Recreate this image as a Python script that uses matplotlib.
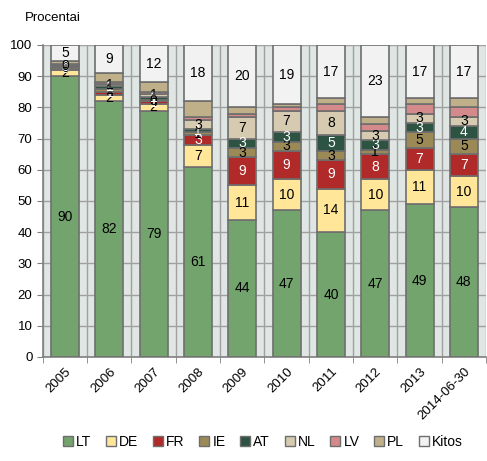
import matplotlib.pyplot as plt
import numpy as np
from matplotlib.patches import Patch

plt.rcParams["font.family"] = ["Liberation Sans", "DejaVu Sans"]

years = ["2005", "2006", "2007", "2008", "2009", "2010", "2011", "2012", "2013", "2014-06-30"]
lt = [90, 82, 79, 61, 44, 47, 40, 47, 49, 48]
de = [2, 2, 2, 7, 11, 10, 14, 10, 11, 10]
fr = [0.4, 1, 1, 3, 9, 9, 9, 8, 7, 7]
ie = [0.4, 1, 0.4, 1, 3, 3, 3, 1.4, 5, 5]
at = [0.4, 1, 1, 1, 3, 3, 5, 3, 3, 4]
nl = [0.4, 0.6, 0.9, 3, 7, 7, 8, 3, 3, 3]
lv = [0.4, 0.4, 0.7, 1, 1, 1, 2, 2.3, 3, 3]
pl = [1, 3, 3, 5, 2, 1, 2, 2.3, 2, 3]
kitos = [5, 9, 12, 18, 20, 19, 17, 23, 17, 17]

series = [
    ("LT", lt, "#74a46e", "black", True),
    ("DE", de, "#ffe699", "black", True),
    ("FR", fr, "#b02a2a", "white", True),
    ("IE", ie, "#9c8a56", "black", True),
    ("AT", at, "#2d5442", "white", True),
    ("NL", nl, "#d6cbb0", "black", True),
    ("LV", lv, "#d48a8a", "black", False),
    ("PL", pl, "#bfb08a", "black", False),
    ("Kitos", kitos, "#f2f2f2", "black", True),
]

fig = plt.figure(figsize=(4.87, 4.61), dpi=100)
ax = fig.add_axes([0.088, 0.2256, 0.91, 0.6768])
ax.set_facecolor("#dfe6e3")

x = np.arange(len(years))
bottom = np.zeros(len(years))
handles = []
for name, vals, color, tcolor, show in series:
    vals = np.array(vals, dtype=float)
    ax.bar(x, vals, 0.63, bottom=bottom, color=color, edgecolor="#6e6e6e",
           linewidth=1.2, zorder=3)
    if show:
        for xi, b, v in zip(x, bottom, vals):
            ax.text(xi, b + v / 2, f"{v:.0f}", ha="center", va="center",
                    fontsize=10, color=tcolor, zorder=4)
    bottom += vals
    handles.append(Patch(facecolor=color, edgecolor="#6e6e6e", linewidth=1.0, label=name))

ax.set_xlim(-0.5, len(years) - 0.5)
ax.set_ylim(0, 100)
ax.set_yticks(range(0, 101, 10))
ax.set_xticks(x)
ax.set_xticklabels(years, rotation=45, ha="right", rotation_mode="anchor", fontsize=9.5)
ax.set_xticks(np.arange(-0.5, len(years), 1), minor=True)
ax.tick_params(axis="x", which="major", length=0, pad=6)
ax.tick_params(axis="x", which="minor", length=4, color="#808080")
ax.tick_params(axis="y", length=4, color="#808080", labelsize=9.5)
ax.grid(axis="y", color="#a0a0a0", linewidth=1.0, zorder=0)
ax.grid(axis="x", which="minor", color="#a0a0a0", linewidth=1.0, zorder=0)
for s in ["top", "right"]:
    ax.spines[s].set_visible(False)
for s in ["left", "bottom"]:
    ax.spines[s].set_color("#808080")
    ax.spines[s].set_linewidth(1.2)

fig.text(0.052, 0.962, "Procentai", fontsize=9.5, va="center")

fig.legend(handles=handles, loc="center", bbox_to_anchor=(0.54, 0.042), ncol=9,
           frameon=False, fontsize=10, handlelength=0.7, handleheight=0.7,
           handletextpad=0.25, columnspacing=1.05, borderaxespad=0)

fig.savefig("out.png", dpi=100)
